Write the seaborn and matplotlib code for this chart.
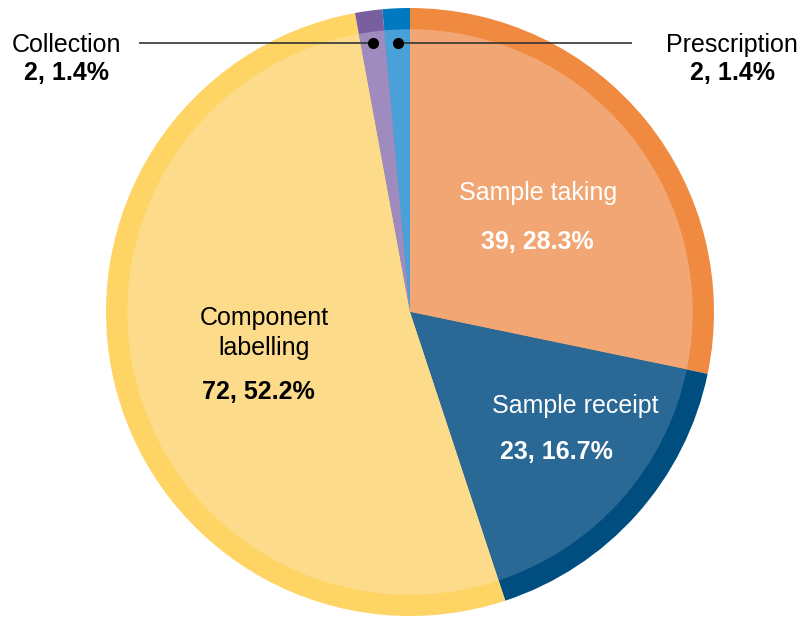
import numpy as np
import matplotlib.pyplot as plt
import seaborn as sns

# data
categories = ["Sample taking", "Sample receipt", "Component\nlabelling", "Collection", "Prescription"]
counts = [39, 23, 72, 2, 2]
pct_labels = ["39, 28.3%", "23, 16.7%", "72, 52.2%", "2, 1.4%", "2, 1.4%"]

outer_colors = ["#F08A40", "#004D80", "#FED464", "#7A5FA0", "#0079C0"]
inner_colors = ["#F2A673", "#2A6896", "#FCDC8A", "#A08BBF", "#4AA0D8"]

sns.set_theme(style="white")
plt.rcParams['font.family'] = ['Liberation Sans', 'DejaVu Sans']

fig = plt.figure(figsize=(8, 6.19), dpi=100)
ax = fig.add_axes([106 / 800, 3 / 619, 608 / 800, 608 / 619])

# outer ring (darker) and inner disc (lighter)
wedges, _ = ax.pie(counts, colors=outer_colors, startangle=90, counterclock=False,
                   radius=1.0, wedgeprops={"linewidth": 0, "edgecolor": "none"})
ax.pie(counts, colors=inner_colors, startangle=90, counterclock=False,
       radius=0.93, wedgeprops={"linewidth": 0, "edgecolor": "none"})
ax.set_xlim(-1, 1)
ax.set_ylim(-1, 1)
ax.set_aspect("equal")
ax.axis("off")

# labels inside the big slices
inside = {
    0: ((0.42, 0.39), (0.42, 0.23), "white"),
    1: ((0.545, -0.308), (0.482, -0.46), "white"),
    2: ((-0.48, -0.07), (-0.50, -0.263), "black"),
}
for i, (p_name, p_val, col) in inside.items():
    ax.text(*p_name, categories[i], ha="center", va="center", fontsize=18,
            color=col, linespacing=1.3)
    ax.text(*p_val, pct_labels[i], ha="center", va="center", fontsize=18,
            color=col, fontweight="bold")

# leader lines for the small slices
for i, side in [(3, -1), (4, 1)]:
    w = wedges[i]
    mid = np.deg2rad((w.theta1 + w.theta2) / 2)
    yd = 0.885
    xd = yd / np.sin(mid) * np.cos(mid)
    x_end = -0.89 if side < 0 else 0.73
    ax.plot([xd, x_end], [yd, yd], color="#333333", lw=1.2, solid_capstyle="butt",
            clip_on=False)
    ax.plot([xd], [yd], "o", color="black", ms=7, clip_on=False)
    x_txt = -1.13 if side < 0 else 1.06
    ax.text(x_txt, yd - 0.006, categories[i], ha="center", va="center", fontsize=18,
            color="black")
    ax.text(x_txt, yd - 0.1, pct_labels[i], ha="center",
            va="center", fontsize=18, color="black", fontweight="bold")

fig.savefig("out.png", dpi=100)
